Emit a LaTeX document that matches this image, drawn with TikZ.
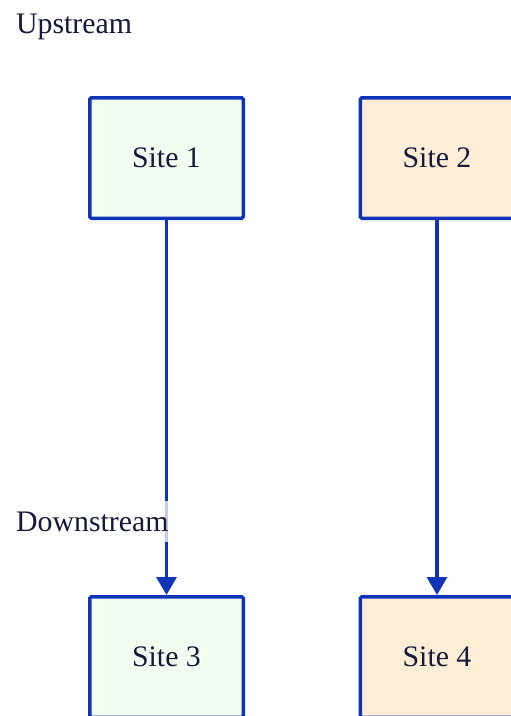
\documentclass[tikz,border=0pt]{standalone}
\usepackage{fontspec}
\setmainfont{Liberation Serif}
\usetikzlibrary{arrows.meta}
\definecolor{edgeblue}{HTML}{1034B8}
\definecolor{txt}{HTML}{131A3C}
\definecolor{greenfill}{HTML}{F0FFF0}
\definecolor{orangefill}{HTML}{FFEED6}
\tikzset{
  site/.style={draw=edgeblue, line width=3.5pt, rounded corners=1.5pt,
    minimum width=153.5pt, minimum height=120.5pt, inner sep=0pt,
    text=txt, font=\fontsize{29.8pt}{36pt}\selectfont},
  greensite/.style={site, fill=greenfill},
  orangesite/.style={site, fill=orangefill},
  lane/.style={text=txt, font=\fontsize{29.8pt}{36pt}\selectfont, anchor=base west},
  flow/.style={draw=edgeblue, line width=3.2pt, -{Triangle[length=18pt,width=20pt]}}
}
\begin{document}
\begin{tikzpicture}[x=1pt,y=1pt]
\useasboundingbox (0,0) rectangle (511,-716);
\clip (0,0) rectangle (511,-716);
\fill[white] (0,0) rectangle (511,-716);
\node[lane, inner sep=0pt] (up) at (16,-33) {Upstream};
\node[greensite] (s1) at (166.5,-158) {Site 1};
\node[orangesite] (s2) at (437,-158) {Site 2};
\node[greensite] (s3) at (166.5,-657) {Site 3};
\node[orangesite] (s4) at (437,-657) {Site 4};
\draw[flow] (s1.south) -- (s3.north);
\draw[flow] (s2.south) -- (s4.north);
\node[lane, fill=white, fill opacity=0.75, text opacity=1, inner xsep=1pt, inner ysep=10.5pt] (down) at (15,-531) {Downstream};
\end{tikzpicture}
\end{document}
